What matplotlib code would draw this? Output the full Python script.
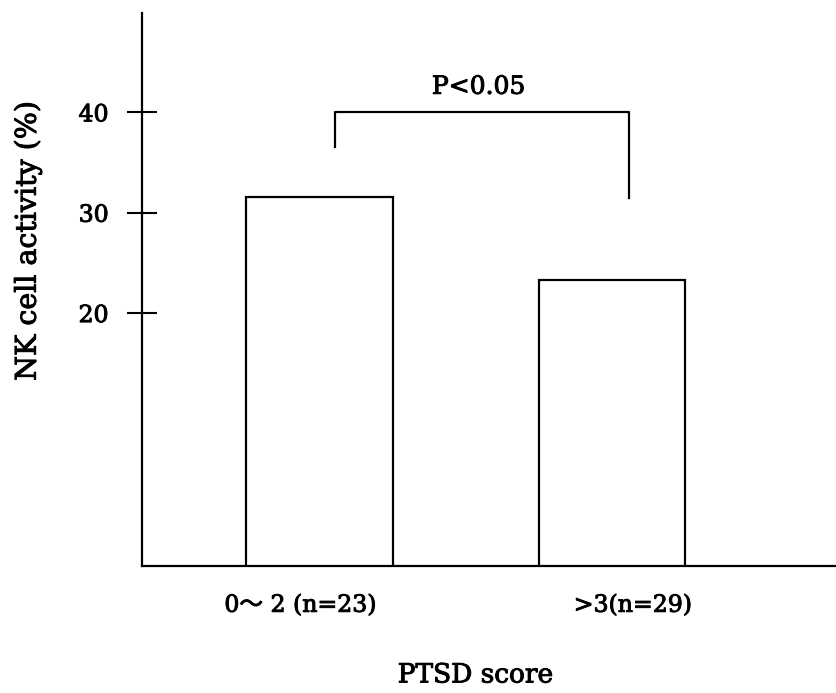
import matplotlib
matplotlib.use("Agg")
import matplotlib.pyplot as plt
import matplotlib.transforms as mtransforms
import matplotlib.patheffects as pe
import numpy as np

plt.rcParams['font.family'] = ['DejaVu Serif', 'Noto Sans CJK JP']

categories = ["0～ 2 (n=23)", ">3(n=29)"]
values = [31.6, 23.3]
yticks = [20, 30, 40]
y_bottom = -5.2
y_top = 49.9
sig_text = "P<0.05"
bracket_left_bottom = 36.5
bracket_top = 40.0
bracket_right_bottom = 31.5
xlabel = "PTSD score"
ylabel = "NK cell activity (%)"

heavy = [pe.withStroke(linewidth=0.7, foreground='black')]

fig = plt.figure(figsize=(8.37, 6.93), dpi=100)
ax = fig.add_axes([142/837, 1-566/693, 695/837, 553/693])

x = np.arange(len(categories))
heights = [v - y_bottom for v in values]
ax.bar(x, heights, bottom=y_bottom, width=0.5, color='white',
       edgecolor='black', linewidth=1.6, zorder=3)

ax.set_xlim(-0.607, 1.769)
ax.set_ylim(y_bottom, y_top)

for s in ['top', 'right']:
    ax.spines[s].set_visible(False)
for s in ['left', 'bottom']:
    ax.spines[s].set_linewidth(1.6)

ax.set_yticks(yticks)
ax.set_yticklabels([str(t) for t in yticks], fontsize=17)
ax.tick_params(axis='y', direction='inout', length=22, width=1.5, pad=13)
ax.set_xticks(x)
ax.set_xticklabels(categories, fontsize=17)
ax.tick_params(axis='x', length=0, pad=20)
offsets = [-19, 21]
for lab, off in zip(ax.get_xticklabels(), offsets):
    lab.set_transform(lab.get_transform() +
                      mtransforms.ScaledTranslation(off/100, 0, fig.dpi_scale_trans))

# significance bracket
bl = x[0] + 0.053
br = x[1] + 0.058
ax.plot([bl, bl, br, br], [bracket_left_bottom, bracket_top, bracket_top, bracket_right_bottom],
        color='black', linewidth=1.6)
ax.text((bl + br) / 2 - 0.012, bracket_top + 2.5, sig_text, ha='center', va='center',
        fontsize=18, path_effects=heavy)

ax.set_xlabel(xlabel, fontsize=19)
ax.xaxis.set_label_coords(0.48, -0.197)
ax.xaxis.label.set_va('center')
ax.set_ylabel(ylabel, fontsize=20.5)
ax.yaxis.set_label_coords(-0.164, 0.588)
ax.yaxis.label.set_va('center')

for t in ax.get_xticklabels() + ax.get_yticklabels() + [ax.xaxis.label, ax.yaxis.label]:
    t.set_path_effects(heavy)

fig.savefig("out.png", dpi=100)
